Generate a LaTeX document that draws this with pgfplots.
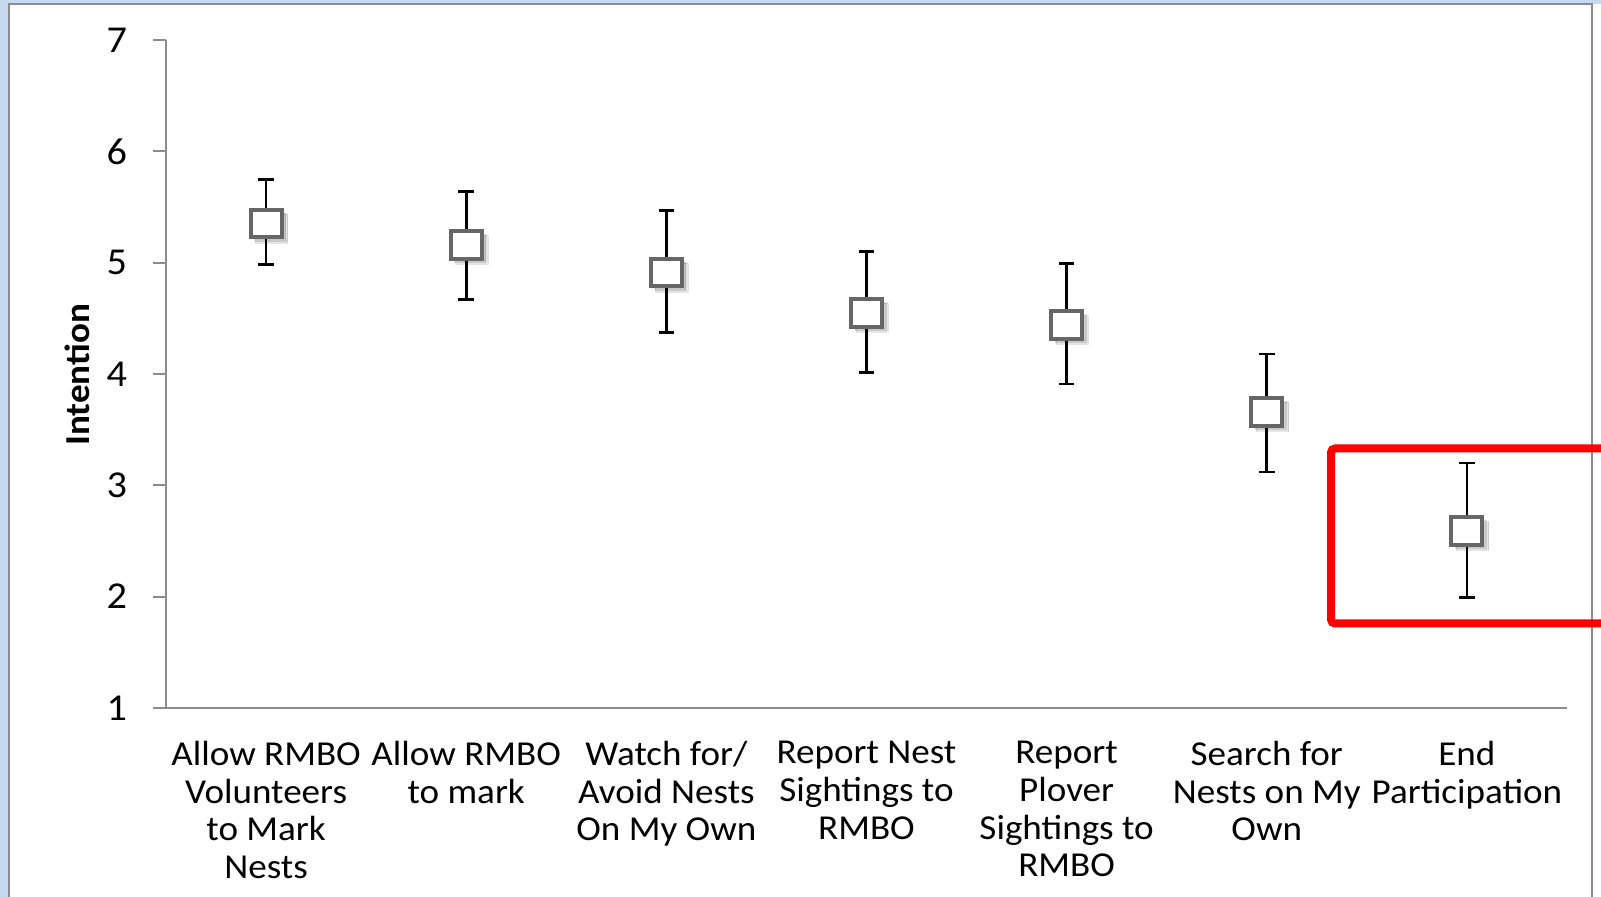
\documentclass[border=0pt]{standalone}
\usepackage{pgfplots}
\usepackage{pgfplotstable}
\pgfplotsset{compat=1.18}
\usepackage{fontspec}
\setmainfont{Carlito}[FakeStretch=1.06]
\definecolor{axgray}{HTML}{8C8C8C}
\definecolor{frameblue}{HTML}{C6D9F0}
\definecolor{markgray}{HTML}{666666}
\pgfplotstableread{
x y ep em
0 5.35 0.40 0.37
1 5.16 0.48 0.49
2 4.91 0.56 0.54
3 4.55 0.55 0.54
4 4.44 0.55 0.53
5 3.66 0.52 0.54
6 2.59 0.61 0.60
}\datatable
\begin{document}
\begin{tikzpicture}[x=1pt,y=1pt]
\path[use as bounding box] (0,0) rectangle (800.5,448.5);
\fill[white] (0,0) rectangle (800.5,448.5);
\fill[frameblue] (0,0) rectangle (4,448.5);
\fill[frameblue] (0,446.5) rectangle (800.5,448.5);
\draw[axgray, line width=1pt] (4.25,-1) -- (4.25,446.25) -- (796,446.25) -- (796,-1);
\begin{axis}[
  at={(83pt,94.5pt)}, anchor=south west,
  scale only axis, width=700.5pt, height=334pt,
  xmin=-0.5, xmax=6.5, ymin=1, ymax=7,
  axis x line*=bottom, axis y line*=left,
  axis line style={axgray, line width=1pt},
  ytick={1,2,3,4,5,6,7},
  xtick={0,1,2,3,4,5,6},
  xticklabels={{Allow RMBO\\Volunteers\\to Mark\\Nests},{Allow RMBO\\to mark},{Watch for/\\Avoid Nests\\On My Own},{Report Nest\\Sightings to\\RMBO},{Report\\Plover\\Sightings to\\RMBO},{Search for\\Nests on My\\Own},{End\\Participation}},
  tick align=outside,
  major tick length=6.5pt,
  ytick style={axgray, line width=1pt},
  xtick style={draw=none},
  /pgf/number format/assume math mode=true,
  yticklabel style={font=\fontsize{19}{21}\selectfont, anchor=east, xshift=-9.5pt},
  xticklabel style={font=\fontsize{17.5}{18.9}\selectfont, align=center, anchor=north, yshift=-6.5pt},
  ylabel={Intention},
  ylabel style={at={(axis description cs:-0.0635,0.4985)}, anchor=center, font=\fontsize{17.5}{20}\selectfont\bfseries},
  clip=false,
]
\addplot[only marks, mark=square*, mark size=7.2pt, mark options={xscale=1.12, fill=black, draw=none, opacity=0.10, xshift=2.5pt, yshift=-2.5pt, rounded corners=2pt}] table[x=x,y=y]{\datatable};
\addplot[only marks, mark=square*, mark size=6.9pt, mark options={xscale=1.12, fill=black, draw=none, opacity=0.12, xshift=1.8pt, yshift=-1.8pt, rounded corners=2pt}] table[x=x,y=y]{\datatable};
\addplot[only marks, mark=square*, mark size=6.9pt, mark options={xscale=1.12, fill=white, draw=markgray, line width=2pt, rounded corners=1.5pt}] table[x=x,y=y]{\datatable};
\addplot[draw=none, mark=none,
  error bars/.cd, y dir=both, y explicit,
  error bar style={draw=black, solid, line width=1.4pt},
  error mark options={rotate=90, draw=black, mark size=3.9pt, line width=1.4pt}]
  table[x=x, y=y, y error plus=ep, y error minus=em]{\datatable};
\end{axis}
\draw[red, line width=4pt, rounded corners=2pt] (665.5,224.25) rectangle (805,136.75);
\end{tikzpicture}
\end{document}
